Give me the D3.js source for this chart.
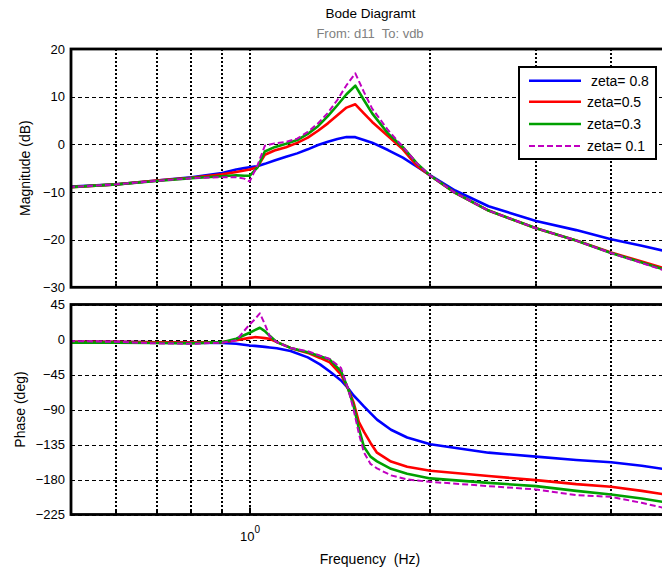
<!DOCTYPE html>
<html>
<head>
<meta charset="utf-8">
<title>Bode Diagramt</title>
<script src="https://cdn.jsdelivr.net/npm/d3@7"></script>
<style>
  html, body { margin: 0; padding: 0; background: #fff; }
  svg { display: block; font-family: "Liberation Sans", Arial, sans-serif; }
</style>
</head>
<body>
<svg id="chart" width="662" height="569"></svg>
<script>
// ---- Magnitude response (dB) ----
const magFreq = [0.5, 0.6, 0.7, 0.8, 0.9, 0.95, 0.98, 1.0, 1.03, 1.06, 1.1, 1.15, 1.2, 1.25, 1.3, 1.35,
                 1.4, 1.45, 1.5, 1.55, 1.6, 1.7, 1.8, 1.9, 2.0, 2.2, 2.5, 3.0, 3.5, 4.0, 4.5, 5.0];
const magZeta08 = [-8.9, -8.4, -7.6, -6.9, -6.0, -5.3, -5.0, -4.8, -4.6, -4.1, -3.4, -2.6, -1.9, -1.05, -0.15, 0.55,
                   1.1, 1.55, 1.5, 0.9, 0.35, -1.2, -2.8, -4.7, -6.5, -9.7, -13.0, -16.1, -18.0, -19.9, -21.3, -22.6];
const magZeta05 = [-9.0, -8.4, -7.6, -7.0, -6.3, -5.8, -5.5, -5.3, -4.8, -2.2, -1.3, -0.6, 0.3, 1.4, 2.85, 4.4,
                   6.1, 7.7, 8.4, 6.5, 4.7, 1.75, -1.05, -4.55, -6.6, -10.2, -13.9, -17.6, -20.2, -22.7, -24.6, -26.3];
const magZeta03 = [-9.0, -8.4, -7.7, -7.1, -6.7, -6.5, -6.6, -6.6, -4.9, -1.5, -0.6, 0.1, 0.9, 2.2, 3.8, 5.9,
                   8.2, 10.5, 12.3, 9.3, 6.5, 2.3, -0.6, -4.0, -6.6, -10.2, -13.9, -17.6, -20.2, -22.8, -24.8, -26.6];
const magZeta01 = [-9.0, -8.4, -7.7, -7.1, -6.9, -6.9, -7.2, -7.8, -4.5, -0.3, 0.2, 0.5, 1.2, 2.6, 4.4, 6.6,
                   9.3, 12.4, 14.9, 11.0, 7.5, 3.0, -0.5, -4.0, -6.6, -10.2, -13.9, -17.6, -20.2, -22.8, -24.9, -26.8];

// ---- Phase response (deg) ----
const phaseFreq = [0.5, 0.6, 0.7, 0.8, 0.9, 0.95, 1.0, 1.02, 1.04, 1.06, 1.08, 1.11, 1.17, 1.25, 1.31, 1.36,
                   1.42, 1.46, 1.49, 1.52, 1.55, 1.59, 1.63, 1.72, 1.83, 2.0, 2.5, 3.0, 3.5, 4.0, 4.5, 5.0];
const phaseZeta08 = [-3, -3, -3.5, -4, -4.5, -5.5, -7.7, -8.2, -8.8, -9.5, -10.2, -11.3, -14.8, -23, -32, -41.2,
                     -52.6, -63, -72, -79, -86, -94.6, -103, -116, -126, -134.7, -145.5, -150.6, -155, -157.9, -162.3, -167.5];
const phaseZeta05 = [-3, -3, -3.5, -4, -3.4, -0.9, 2.1, 3.0, 2.5, 1.8, 0.9, -3.4, -10.8, -17.2, -23.7, -29.5,
                     -45.2, -64, -81, -106, -118.5, -133, -145.5, -157, -163.6, -168.7, -175.6, -180.8, -186, -189.4, -194.6, -200];
const phaseZeta03 = [-4, -4, -4.5, -5, -3.4, 0.9, 8.6, 12, 15.1, 10.7, 4.7, -3.4, -10.8, -16.4, -21.5, -25.8,
                     -40.9, -64, -85, -114, -137.8, -150.6, -156.7, -166.3, -172.5, -178.6, -184.3, -188.5, -194.6, -199.3, -204.4, -210];
const phaseZeta01 = [-2, -3, -5, -5.5, -4, -0.9, 19.4, 25.8, 33.6, 19.8, 3.9, -3.4, -10.8, -15.1, -20.7, -25,
                     -36.6, -64, -90, -120.5, -145, -160, -165.7, -174.7, -180, -183, -188.5, -192.8, -200, -202.3, -210, -218];

// ---- Series labels and styles ----
const seriesLabels = [" zeta= 0.8", "zeta=0.5", "zeta=0.3", "zeta= 0.1"];
const seriesColors = ["#0000ff", "#ff0000", "#00a000", "#c000c0"];
const seriesDashes = [null, null, null, "6,3"];

// ---- Axis ticks and grid ----
const magTicks = [20, 10, 0, -10, -20, -30];
const phaseTicks = [45, 0, -45, -90, -135, -180, -225];
const freqGrid = [0.6, 0.7, 0.8, 0.9, 1, 2, 3, 4];
const freqDomain = [0.504, 5];

const svg = d3.select("#chart");

const x = d3.scaleLog().domain(freqDomain).range([71, 669.2]);
const yMag = d3.scaleLinear().domain([-30, 20]).range([287.3, 49]);
const yPh = d3.scaleLinear().domain([-225, 45]).range([514.5, 304.5]);

const magSeries = [magZeta08, magZeta05, magZeta03, magZeta01];
const phaseSeries = [phaseZeta08, phaseZeta05, phaseZeta03, phaseZeta01];

// pixel snapping helpers for crisp grid lines
const snapEven = v => Math.round(v);
const snapOdd = v => Math.round(v) + 0.5;

// Title block
svg.append("text")
  .attr("x", 370.5).attr("y", 18)
  .attr("text-anchor", "middle")
  .attr("font-size", 13.5)
  .attr("fill", "#000")
  .text("Bode Diagramt");
svg.append("text")
  .attr("x", 370).attr("y", 37.5)
  .attr("text-anchor", "middle")
  .attr("font-size", 13)
  .attr("fill", "#808080")
  .attr("xml:space", "preserve")
  .style("white-space", "pre")
  .text("From: d11  To: vdb");

function drawPanel(yScale, ticks, freqs, seriesList, clipId) {
  const [y0, y1] = yScale.range();
  const top = Math.min(y0, y1), bottom = Math.max(y0, y1);
  const left = x.range()[0], right = x.range()[1];

  svg.append("clipPath").attr("id", clipId)
    .append("rect")
    .attr("x", left).attr("y", top)
    .attr("width", right - left).attr("height", bottom - top);

  const g = svg.append("g");

  // horizontal dashed grid
  g.selectAll(null).data(ticks).join("line")
    .attr("x1", left).attr("x2", right)
    .attr("y1", d => snapOdd(yScale(d))).attr("y2", d => snapOdd(yScale(d)))
    .attr("stroke", "#000").attr("stroke-width", 1)
    .attr("stroke-dasharray", "4,3")
    .attr("shape-rendering", "crispEdges");

  // vertical dotted grid
  g.selectAll(null).data(freqGrid).join("line")
    .attr("x1", d => snapEven(x(d))).attr("x2", d => snapEven(x(d)))
    .attr("y1", top).attr("y2", bottom)
    .attr("stroke", "#000").attr("stroke-width", 2)
    .attr("stroke-dasharray", "2,2")
    .attr("shape-rendering", "crispEdges");

  // response curves
  const curves = svg.append("g").attr("clip-path", `url(#${clipId})`);
  seriesList.forEach((vals, i) => {
    const pts = freqs.map((f, k) => [f, vals[k]]);
    const line = d3.line().x(d => x(d[0])).y(d => yScale(d[1]));
    curves.append("path")
      .attr("d", line(pts))
      .attr("fill", "none")
      .attr("stroke", seriesColors[i])
      .attr("stroke-width", i === 3 ? 2 : 2.6)
      .attr("stroke-linejoin", "round")
      .attr("stroke-dasharray", seriesDashes[i]);
  });

  // y-axis labels
  const axis = d3.axisLeft(yScale).tickValues(ticks).tickSize(0).tickPadding(6);
  const ax = svg.append("g").attr("transform", `translate(${left},0)`).call(axis);
  ax.select(".domain").remove();
  ax.selectAll("text")
    .attr("font-size", 13)
    .attr("font-family", "'Liberation Sans', Arial, sans-serif")
    .attr("fill", "#000");

  // inward tick marks on the frequency axis
  svg.append("g").selectAll(null).data(freqGrid).join("line")
    .attr("x1", d => snapEven(x(d))).attr("x2", d => snapEven(x(d)))
    .attr("y1", bottom).attr("y2", d => bottom - (d === 1 ? 7 : 4))
    .attr("stroke", "#000").attr("stroke-width", 2);

  // frame
  svg.append("rect")
    .attr("x", left).attr("y", top)
    .attr("width", right - left).attr("height", bottom - top)
    .attr("fill", "none").attr("stroke", "#000").attr("stroke-width", 2.8);
}

drawPanel(yMag, magTicks, magFreq, magSeries, "clipMag");
drawPanel(yPh, phaseTicks, phaseFreq, phaseSeries, "clipPhase");

// Frequency axis label "10^0"
const decade = svg.append("text")
  .attr("x", 240).attr("y", 540.5)
  .attr("font-size", 13)
  .attr("fill", "#000");
decade.append("tspan").text("10");
decade.append("tspan").attr("font-size", 10).attr("dy", -8).text("0");

// Axis titles
svg.append("text")
  .attr("x", 370).attr("y", 564)
  .attr("text-anchor", "middle")
  .attr("font-size", 14)
  .attr("fill", "#000")
  .attr("xml:space", "preserve")
  .style("white-space", "pre")
  .text("Frequency  (Hz)");

svg.append("text")
  .attr("transform", `translate(30,${(yMag.range()[0] + yMag.range()[1]) / 2}) rotate(-90)`)
  .attr("text-anchor", "middle")
  .attr("font-size", 14)
  .attr("fill", "#000")
  .text("Magnitude (dB)");

svg.append("text")
  .attr("transform", `translate(25,${(yPh.range()[0] + yPh.range()[1]) / 2}) rotate(-90)`)
  .attr("text-anchor", "middle")
  .attr("font-size", 14)
  .attr("fill", "#000")
  .text("Phase (deg)");

// Legend
const legend = svg.append("g");
legend.append("rect")
  .attr("x", 519).attr("y", 67)
  .attr("width", 137).attr("height", 92)
  .attr("fill", "#fff").attr("stroke", "#000").attr("stroke-width", 2);
const legendRows = [80.7, 101.8, 124, 146];
seriesLabels.forEach((label, i) => {
  const yy = legendRows[i];
  legend.append("line")
    .attr("x1", 529).attr("x2", 581)
    .attr("y1", yy).attr("y2", yy)
    .attr("stroke", seriesColors[i])
    .attr("stroke-width", i === 3 ? 2 : 2.6)
    .attr("stroke-dasharray", seriesDashes[i]);
  legend.append("text")
    .attr("x", 587).attr("y", yy + 5)
    .attr("font-size", 14)
    .attr("fill", "#000")
    .attr("xml:space", "preserve")
    .style("white-space", "pre")
    .text(label);
});
</script>
</body>
</html>
